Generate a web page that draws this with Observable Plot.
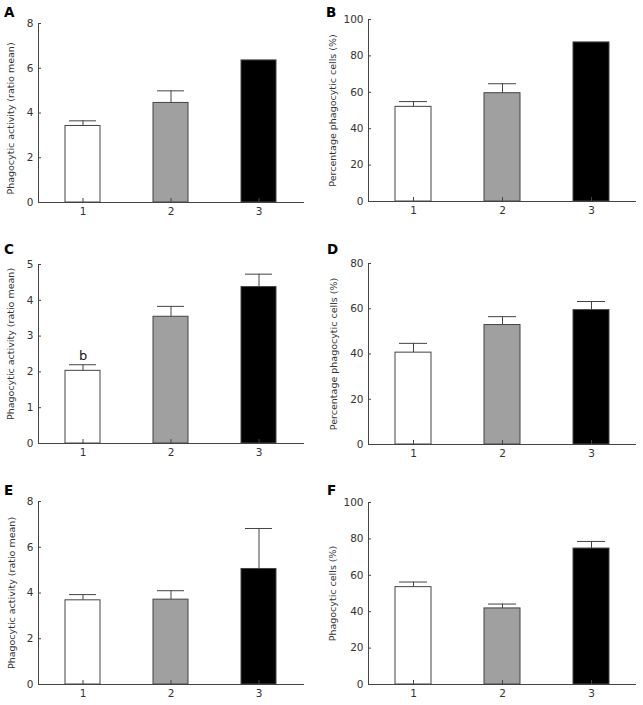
<!DOCTYPE html>
<html>
<head>
<meta charset="utf-8">
<script src="https://cdn.jsdelivr.net/npm/d3@7"></script>
<script src="https://cdn.jsdelivr.net/npm/@observablehq/plot@0.6"></script>
<style>
  body { margin: 0; background: #fff; }
  #wrap { position: relative; width: 643px; height: 705px; overflow: hidden; }
  .panel { position: absolute; }
  .letter { position: absolute; font: bold 13.5px "DejaVu Sans", sans-serif; line-height: 13.5px; color: #000; }
</style>
</head>
<body>
<div id="wrap"></div>
<script>
// ---- data ----
const categories = ["1", "2", "3"];
const barFills = ["#ffffff", "#a0a0a0", "#000000"];

const meanA = [3.42, 4.45, 6.35];
const errA  = [0.23, 0.54, 0];
const meanB = [52.0, 59.5, 87.4];
const errB  = [2.9, 5.2, 0];
const meanC = [2.03, 3.54, 4.37];
const errC  = [0.17, 0.29, 0.36];
const meanD = [40.6, 52.8, 59.4];
const errD  = [4.1, 3.7, 3.8];
const meanE = [3.68, 3.71, 5.05];
const errE  = [0.25, 0.39, 1.77];
const meanF = [53.5, 41.8, 74.7];
const errF  = [2.8, 2.4, 3.9];

const ticks8   = [0, 2, 4, 6, 8];
const ticks5   = [0, 1, 2, 3, 4, 5];
const ticks80  = [0, 20, 40, 60, 80];
const ticks100 = [0, 20, 40, 60, 80, 100];

const labelActivity = "Phagocytic activity (ratio mean)";
const labelPercent  = "Percentage phagocytic cells (%)";
const labelCells    = "Phagocytic cells (%)";

const panelLetters = ["A", "B", "C", "D", "E", "F"];
const annotationC = "b";

// ---- layout ----
const panels = [
  {letter: panelLetters[0], mean: meanA, err: errA, ticks: ticks8, domain: [0, 8], label: labelActivity,
   left: 0, top: 0, width: 320, height: 230, mt: 23, mb: 28, ml: 38, mr: 16, lx: -27.3, ly: 5.5, letterX: 4, letterBase: 17.5},
  {letter: panelLetters[1], mean: meanB, err: errB, ticks: ticks100, domain: [0, 100], label: labelPercent,
   left: 320, top: 0, width: 323, height: 230, mt: 19, mb: 29, ml: 48, mr: 7, lx: -35.3, ly: 0, letterX: 6, letterBase: 17.5},
  {letter: panelLetters[2], mean: meanC, err: errC, ticks: ticks5, domain: [0, 5], label: labelActivity, annot: annotationC,
   left: 0, top: 230, width: 320, height: 240, mt: 34, mb: 27, ml: 38, mr: 16, lx: -27.3, ly: -10, letterX: 4, letterBase: 24.5},
  {letter: panelLetters[3], mean: meanD, err: errD, ticks: ticks80, domain: [0, 80], label: labelPercent,
   left: 320, top: 230, width: 323, height: 240, mt: 33, mb: 26, ml: 48, mr: 7, lx: -34.5, ly: 0, letterX: 7, letterBase: 24.5},
  {letter: panelLetters[4], mean: meanE, err: errE, ticks: ticks8, domain: [0, 8], label: labelActivity,
   left: 0, top: 470, width: 320, height: 235, mt: 31, mb: 21, ml: 38, mr: 16, lx: -26.5, ly: 0, letterX: 4, letterBase: 25.5},
  {letter: panelLetters[5], mean: meanF, err: errF, ticks: ticks100, domain: [0, 100], label: labelCells,
   left: 320, top: 470, width: 323, height: 235, mt: 32, mb: 21, ml: 48, mr: 7, lx: -35.3, ly: 0, letterX: 7, letterBase: 25.5}
];

const wrap = document.getElementById("wrap");
const lineColor = "#444";
const textColor = "#333";

for (const p of panels) {
  const rows = categories.map((c, i) => ({cat: c, mean: p.mean[i], err: p.err[i], fill: barFills[i]}));
  const withErr = rows.filter(d => d.err > 0);
  const marks = [
    Plot.barY(rows, {x: "cat", y: "mean", fill: "fill", stroke: lineColor, strokeWidth: 1}),
    Plot.ruleX(withErr, {x: "cat", y1: "mean", y2: d => d.mean + d.err, stroke: lineColor, strokeWidth: 1}),
    Plot.tickY(withErr, {x: "cat", y: d => d.mean + d.err, stroke: lineColor, strokeWidth: 1, insetLeft: 4, insetRight: 4}),
    Plot.ruleY([0], {stroke: lineColor, strokeWidth: 1}),
    Plot.axisX({tickSize: -4, tickPadding: 9, label: null, stroke: lineColor, fill: textColor, fontSize: 10.5}),
    Plot.axisY({ticks: p.ticks, tickFormat: d => String(d), tickSize: -3, tickPadding: 8, label: null,
      stroke: lineColor, fill: textColor, fontSize: 10.5}),
    Plot.frame({anchor: "left", stroke: lineColor, strokeWidth: 1}),
    Plot.text([p.label], {text: d => d, frameAnchor: "left", rotate: -90, textAnchor: "middle",
      dx: p.lx, dy: p.ly, fontSize: 9.5, fill: textColor})
  ];
  if (p.annot) {
    const first = rows[0];
    marks.push(Plot.text([first], {x: "cat", y: d => d.mean + d.err, text: () => p.annot,
      lineAnchor: "bottom", dy: -5, fontSize: 13, fill: "#111"}));
  }
  const svg = Plot.plot({
    width: p.width,
    height: p.height,
    marginTop: p.mt,
    marginBottom: p.mb,
    marginLeft: p.ml,
    marginRight: p.mr,
    style: {fontFamily: "DejaVu Sans, sans-serif", fontSize: "10.5px", background: "transparent", overflow: "visible"},
    x: {type: "band", domain: categories, paddingInner: 0.6, paddingOuter: 0.3, axis: null},
    y: {domain: p.domain, axis: null},
    color: {type: "identity"},
    marks
  });
  const holder = document.createElement("div");
  holder.className = "panel";
  holder.style.left = p.left + "px";
  holder.style.top = p.top + "px";
  holder.appendChild(svg);
  wrap.appendChild(holder);

  const lt = document.createElement("div");
  lt.className = "letter";
  lt.textContent = p.letter;
  lt.style.left = (p.left + p.letterX) + "px";
  lt.style.top = (p.top + p.letterBase - 11.4) + "px";
  wrap.appendChild(lt);
}
</script>
</body>
</html>
